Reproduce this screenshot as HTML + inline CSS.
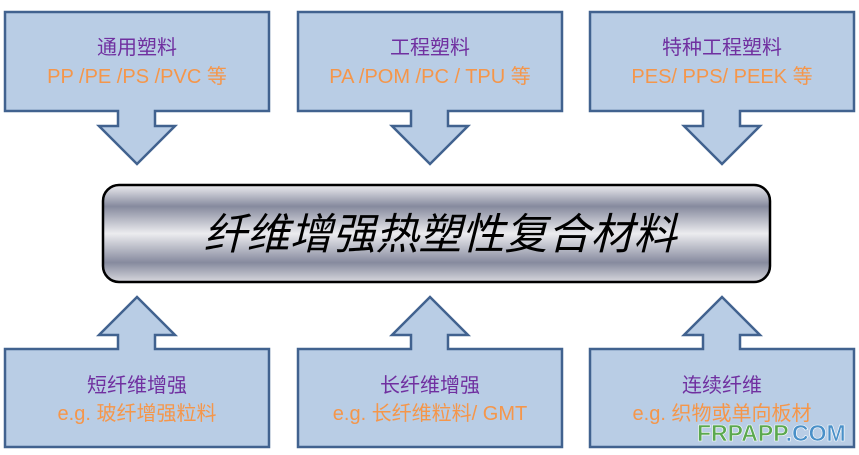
<!DOCTYPE html>
<html><head><meta charset="utf-8"><style>
html,body{margin:0;padding:0;background:#fff;}
svg{display:block;}
text{font-family:"Liberation Sans","Noto Sans CJK SC",sans-serif;}
</style></head><body>
<svg width="859" height="455" viewBox="0 0 859 455" xmlns="http://www.w3.org/2000/svg">
<defs>
<linearGradient id="g" x1="0" y1="0" x2="0" y2="1">
<stop offset="0" stop-color="#ededf0"/>
<stop offset="0.22" stop-color="#868a9e"/>
<stop offset="0.5" stop-color="#ececef"/>
<stop offset="0.8" stop-color="#868a9e"/>
<stop offset="1" stop-color="#d8d8de"/>
</linearGradient>
</defs>
<g fill="#b9cde5" stroke="#41628f" stroke-width="2.5">
<path d="M5,12 H269 V111 H155 V126 H175 L137,164 L99,126 H118 V111 H5 Z"/>
<path d="M298,12 H562 V111 H448 V126 H468 L430,164 L392,126 H411 V111 H298 Z"/>
<path d="M590,12 H854 V111 H740 V126 H760 L722,164 L684,126 H703 V111 H590 Z"/>
<path d="M5,447 H269 V349 H155 V335 H175 L137,297 L99,335 H118 V349 H5 Z"/>
<path d="M298,447 H562 V349 H448 V335 H468 L430,297 L392,335 H411 V349 H298 Z"/>
<path d="M590,447 H854 V349 H740 V335 H760 L722,297 L684,335 H703 V349 H590 Z"/>
</g>
<rect x="103" y="185" width="667" height="97" rx="16" fill="url(#g)" stroke="#000" stroke-width="2.5"/>
<text x="440" y="249" font-size="43" font-style="italic" text-anchor="middle" fill="#000">纤维增强热塑性复合材料</text>
<g font-size="20" text-anchor="middle">
<text x="137" y="54" fill="#7030a0">通用塑料</text>
<text x="137" y="83" fill="#f5964a">PP /PE /PS /PVC 等</text>
<text x="430" y="54" fill="#7030a0">工程塑料</text>
<text x="430" y="83" fill="#f5964a">PA /POM /PC / TPU 等</text>
<text x="722" y="54" fill="#7030a0">特种工程塑料</text>
<text x="722" y="83" fill="#f5964a">PES/ PPS/ PEEK 等</text>
<text x="137" y="392" fill="#7030a0">短纤维增强</text>
<text x="137" y="420" fill="#f5964a">e.g. 玻纤增强粒料</text>
<text x="430" y="392" fill="#7030a0">长纤维增强</text>
<text x="430" y="420" fill="#f5964a">e.g. 长纤维粒料/ GMT</text>
<text x="722" y="392" fill="#7030a0">连续纤维</text>
<text x="722" y="420" fill="#f5964a">e.g. 织物或单向板材</text>
</g>
<text x="697" y="441" font-size="23" font-weight="bold" fill="#5aa84f" stroke="#fff" stroke-width="0.6">FRPAPP<tspan fill="#4a90c8">.COM</tspan></text>
</svg>
</body></html>
